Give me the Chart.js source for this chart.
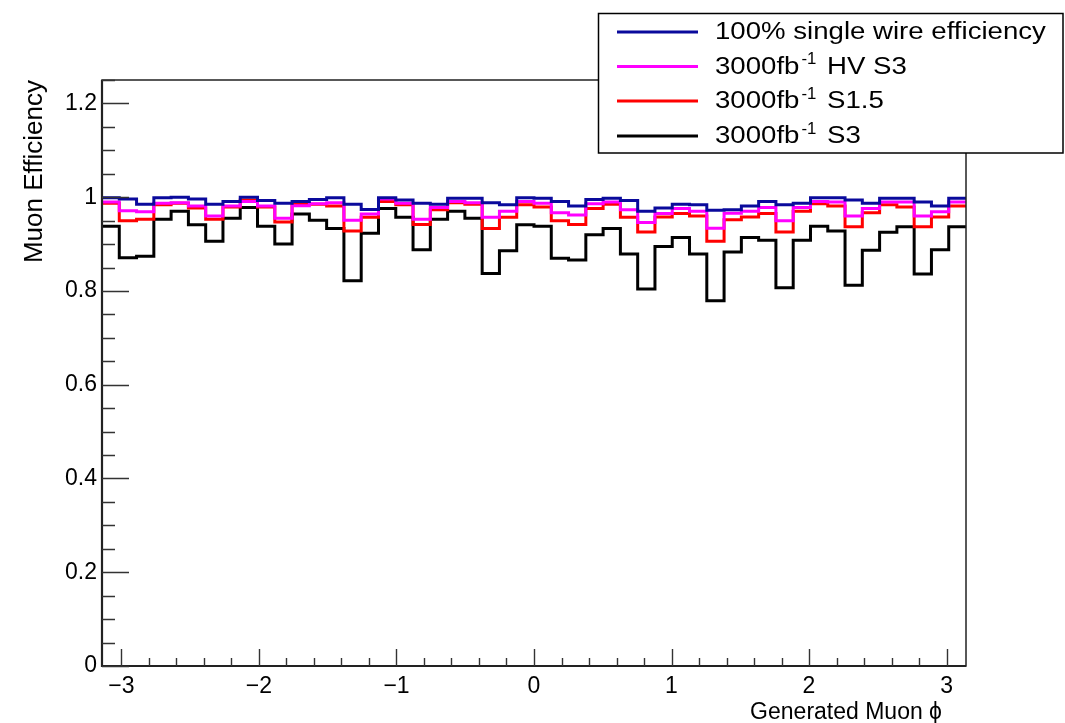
<!DOCTYPE html>
<html>
<head>
<meta charset="utf-8">
<script src="https://cdn.jsdelivr.net/npm/chart.js"></script>
<style>
  html, body { margin: 0; padding: 0; background: #fff; }
  #wrap { width: 1065px; height: 723px; }
</style>
</head>
<body>
<div id="wrap"><canvas id="chart" width="1065" height="723"></canvas></div>
<script>
// histogram binning: 50 bins over [-pi, pi]
const phiMin = -Math.PI;
const phiMax = Math.PI;
const nBins = 50;

const xTickValues = [-3, -2, -1, 0, 1, 2, 3];
const yTickValues = [0, 0.2, 0.4, 0.6, 0.8, 1, 1.2];

// legend labels (ROOT-style superscripts)
const legendLabels = [
  "100% single wire efficiency",
  "3000fb^{-1} HV S3",
  "3000fb^{-1} S1.5",
  "3000fb^{-1} S3"
];

// efficiency per bin
const effFull = [
  0.999, 0.996, 0.985, 0.999, 1.000, 0.996, 0.985, 0.991, 1.000, 0.993,
  0.987, 0.991, 0.995, 0.999, 0.985, 0.974, 0.999, 0.994, 0.987, 0.985,
  0.998, 0.998, 0.988, 0.984, 0.999, 0.998, 0.991, 0.981, 0.995, 0.998,
  0.993, 0.970, 0.977, 0.985, 0.984, 0.972, 0.973, 0.981, 0.991, 0.984,
  0.987, 0.999, 0.999, 0.994, 0.987, 0.998, 0.998, 0.990, 0.981, 0.998
];
const effHVS3 = [
  0.990, 0.971, 0.969, 0.987, 0.988, 0.981, 0.960, 0.981, 0.991, 0.981,
  0.955, 0.982, 0.986, 0.988, 0.951, 0.964, 0.996, 0.987, 0.953, 0.978,
  0.991, 0.988, 0.957, 0.970, 0.991, 0.987, 0.967, 0.962, 0.986, 0.990,
  0.973, 0.946, 0.965, 0.976, 0.970, 0.934, 0.966, 0.970, 0.978, 0.950,
  0.978, 0.991, 0.990, 0.960, 0.976, 0.990, 0.990, 0.960, 0.969, 0.990
];
const effS15 = [
  0.987, 0.950, 0.953, 0.984, 0.987, 0.977, 0.953, 0.979, 0.994, 0.979,
  0.947, 0.985, 0.985, 0.981, 0.928, 0.957, 0.991, 0.984, 0.942, 0.973,
  0.988, 0.985, 0.933, 0.957, 0.984, 0.979, 0.950, 0.942, 0.976, 0.985,
  0.957, 0.926, 0.958, 0.965, 0.960, 0.906, 0.952, 0.958, 0.965, 0.926,
  0.970, 0.986, 0.981, 0.937, 0.967, 0.984, 0.979, 0.937, 0.958, 0.981
];
const effS3 = [
  0.938, 0.871, 0.874, 0.953, 0.970, 0.941, 0.906, 0.955, 0.978, 0.938,
  0.900, 0.964, 0.951, 0.933, 0.822, 0.923, 0.976, 0.957, 0.888, 0.953,
  0.970, 0.955, 0.837, 0.886, 0.941, 0.938, 0.870, 0.866, 0.920, 0.933,
  0.879, 0.804, 0.895, 0.914, 0.879, 0.779, 0.883, 0.914, 0.908, 0.807,
  0.908, 0.938, 0.928, 0.812, 0.887, 0.925, 0.937, 0.836, 0.888, 0.937
];

const lineColors = ["#0a0a9c", "#ff00ff", "#ff0000", "#000000"];
const FONT = "'Liberation Sans', Arial, Helvetica, sans-serif";

// turn bin contents into step points at the bin edges
function histPoints(values) {
  const w = (phiMax - phiMin) / nBins;
  const pts = values.map((v, i) => ({ x: phiMin + i * w, y: v }));
  pts.push({ x: phiMax, y: values[values.length - 1] });
  return pts;
}

const series = [effFull, effHVS3, effS15, effS3];
const datasets = series.map((vals, i) => ({
  label: legendLabels[i],
  data: histPoints(vals),
  borderColor: lineColors[i],
  borderWidth: 3,
  pointRadius: 0,
  stepped: true,
  fill: false
}));

// draws text a bit wider, like the ROOT Helvetica output
function wideText(ctx, s, x, y, size, sx) {
  ctx.save();
  ctx.font = size + 'px ' + FONT;
  ctx.translate(x, y);
  ctx.scale(sx, 1);
  ctx.fillText(s, 0, 0);
  const w = ctx.measureText(s).width * sx;
  ctx.restore();
  return w;
}

// ROOT-like frame, inward ticks, x title and legend box
const rootStyle = {
  id: 'rootStyle',
  afterDraw(chart) {
    const ctx = chart.ctx;
    const a = chart.chartArea;
    const xs = chart.scales.x, ys = chart.scales.y;
    ctx.save();

    // frame
    ctx.strokeStyle = '#222';
    ctx.lineWidth = 1.5;
    ctx.strokeRect(a.left, a.top, a.right - a.left, a.bottom - a.top);
    ctx.lineWidth = 2.2;
    ctx.beginPath();
    ctx.moveTo(a.left, a.top);
    ctx.lineTo(a.left, a.bottom);
    ctx.lineTo(a.right, a.bottom);
    ctx.stroke();

    // y ticks
    ctx.lineWidth = 1.4;
    ctx.strokeStyle = '#333';
    ctx.beginPath();
    for (let k = 0; k <= 25; k++) {
      const v = k * 0.05;
      const py = Math.round(ys.getPixelForValue(v)) + 0.5;
      const len = (k % 4 === 0) ? 27 : 13;
      ctx.moveTo(a.left, py);
      ctx.lineTo(a.left + len, py);
    }
    // x ticks
    for (let k = -15; k <= 15; k++) {
      const v = k * 0.2;
      const px = Math.round(xs.getPixelForValue(v)) + 0.5;
      const len = (k % 5 === 0) ? 17 : 8;
      ctx.moveTo(px, a.bottom);
      ctx.lineTo(px, a.bottom - len);
    }
    ctx.stroke();

    // x axis title, right aligned a little inside the axis end
    ctx.fillStyle = '#000';
    ctx.font = '23px ' + FONT;
    ctx.textAlign = 'right';
    ctx.textBaseline = 'alphabetic';
    ctx.fillText('Generated Muon \u03d5', 942, 719);
    ctx.textAlign = 'left';

    // legend
    const box = { x: 598.5, y: 13.5, w: 464.5, h: 139.5 };
    ctx.fillStyle = '#fff';
    ctx.fillRect(box.x, box.y, box.w, box.h);
    ctx.strokeStyle = '#000';
    ctx.lineWidth = 1.5;
    ctx.strokeRect(box.x, box.y, box.w, box.h);
    const rowY = [32, 66.5, 101, 136];
    chart.data.datasets.forEach((ds, i) => {
      const y = rowY[i];
      ctx.strokeStyle = ds.borderColor;
      ctx.lineWidth = 3;
      ctx.beginPath();
      ctx.moveTo(617, y);
      ctx.lineTo(698, y);
      ctx.stroke();
      // text with ^{...} superscripts
      let x = 715;
      ctx.fillStyle = '#000';
      ctx.textBaseline = 'alphabetic';
      const parts = ds.label.split(/(\^\{[^}]*\})/);
      parts.forEach(p => {
        if (!p) return;
        if (p.startsWith('^{')) {
          x += 2 + wideText(ctx, p.slice(2, -1), x + 2, y - 2.5, 16, 1.05) + 3;
        } else {
          x += wideText(ctx, p, x, y + 7, 23, 1.2);
        }
      });
    });
    ctx.restore();
  }
};

new Chart(document.getElementById('chart'), {
  type: 'line',
  data: { datasets: datasets },
  plugins: [rootStyle],
  options: {
    responsive: false,
    animation: false,
    layout: { padding: { left: 0, top: 80, right: 99, bottom: 0 } },
    plugins: { legend: { display: false }, tooltip: { enabled: false } },
    elements: { line: { tension: 0 } },
    scales: {
      x: {
        type: 'linear',
        min: phiMin,
        max: phiMax,
        grid: { display: false, drawTicks: false },
        border: { display: false },
        afterBuildTicks: s => { s.ticks = xTickValues.map(v => ({ value: v })); },
        afterFit: s => { s.height = 57; },
        ticks: {
          color: '#000',
          padding: 7,
          maxRotation: 0,
          autoSkip: false,
          font: { family: FONT, size: 23 },
          callback: v => (v < 0 ? '\u2212' + Math.abs(v) : String(v))
        },
        title: { display: false }
      },
      y: {
        type: 'linear',
        min: 0,
        max: 1.25,
        grid: { display: false, drawTicks: false },
        border: { display: false },
        afterBuildTicks: s => { s.ticks = yTickValues.map(v => ({ value: v })); },
        afterFit: s => { s.width = 102; },
        ticks: {
          color: '#000',
          padding: 5,
          autoSkip: false,
          font: { family: FONT, size: 23 },
          callback: v => String(v)
        },
        title: {
          display: true,
          text: 'Muon Efficiency',
          align: 'end',
          color: '#000',
          padding: { top: 22, bottom: 0 },
          font: { family: FONT, size: 26, lineHeight: 1 }
        }
      }
    }
  }
});
</script>
</body>
</html>
